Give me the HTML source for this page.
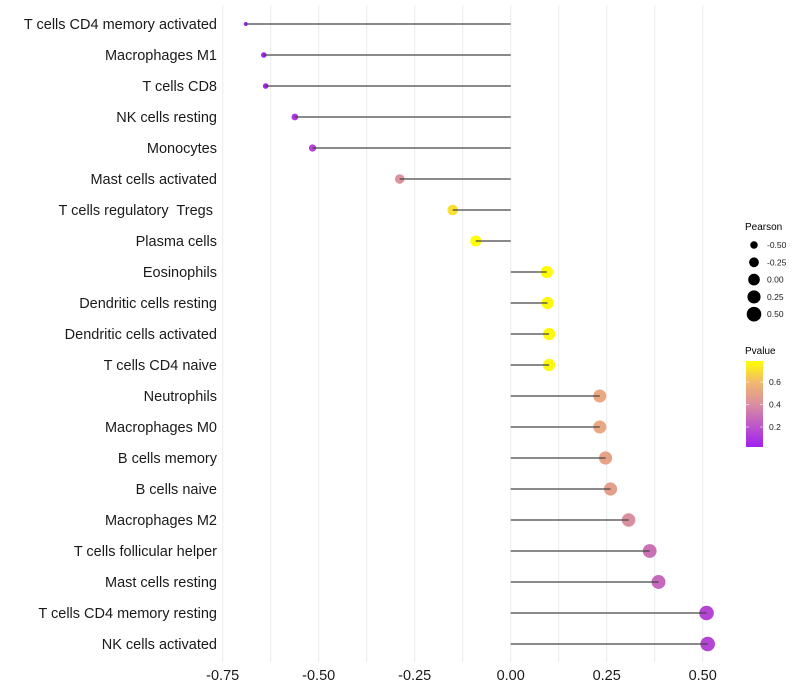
<!DOCTYPE html>
<html><head><meta charset="utf-8"><style>
body{margin:0;background:#fff;}
svg{display:block;font-family:"Liberation Sans",Arial,sans-serif;}
text{white-space:pre;}
</style></head><body>
<svg id="chart" width="800" height="700">
<defs>
<linearGradient id="pg" x1="0" y1="1" x2="0" y2="0">
<stop offset="0" stop-color="#A020F0"/>
<stop offset="0.5" stop-color="#DB8FA0"/>
<stop offset="0.75" stop-color="#F2B86E"/>
<stop offset="1" stop-color="#FFFF00"/>
</linearGradient>
</defs>
<g id="grid"></g>
<g id="marks"></g>
<g id="ylab"></g>
<g id="xlab"></g>
<g id="sleg">
<text x="745" y="230" font-size="10">Pearson</text>
</g>
<g id="cleg">
<text x="745" y="354" font-size="10">Pvalue</text>
<rect x="746" y="361" width="17" height="86" fill="url(#pg)"/>
</g>
</svg>
<script>
const categories=["T cells CD4 memory activated","Macrophages M1","T cells CD8","NK cells resting","Monocytes","Mast cells activated","T cells regulatory  Tregs ","Plasma cells","Eosinophils","Dendritic cells resting","Dendritic cells activated","T cells CD4 naive","Neutrophils","Macrophages M0","B cells memory","B cells naive","Macrophages M2","T cells follicular helper","Mast cells resting","T cells CD4 memory resting","NK cells activated"];
const pearson=[-0.69,-0.643,-0.638,-0.562,-0.516,-0.289,-0.151,-0.091,0.094,0.096,0.10,0.10,0.232,0.232,0.247,0.26,0.307,0.362,0.385,0.51,0.513];
const pvalues=[0.02,0.03,0.03,0.10,0.15,0.42,0.70,0.79,0.78,0.77,0.77,0.77,0.52,0.52,0.50,0.48,0.40,0.30,0.27,0.15,0.15];
const xTicks=[-0.75,-0.5,-0.25,0,0.25,0.5];
const xTickLabels=["-0.75","-0.50","-0.25","0.00","0.25","0.50"];
const sizeBreaks=[-0.5,-0.25,0,0.25,0.5];
const sizeLabels=["-0.50","-0.25","0.00","0.25","0.50"];
const colorBreaks=[0.2,0.4,0.6];
const colorLabels=["0.2","0.4","0.6"];

const NS="http://www.w3.org/2000/svg";
const X=v=>510.7+v*384;
const Y=i=>24+i*31;
const pMin=0.022,pMax=0.787;
const CY=p=>447-(p-pMin)/(pMax-pMin)*86;
const R=v=>2+5.3*Math.pow(Math.max(0,(v+0.69)/1.2),0.6);
const stops=[[0,[160,32,240]],[0.5,[219,143,160]],[0.75,[242,184,110]],[1,[255,255,0]]];
function col(p){let t=Math.min(1,Math.max(0,(p-pMin)/(pMax-pMin)));for(let k=1;k<stops.length;k++){if(t<=stops[k][0]){const a=stops[k-1],b=stops[k];const f=(t-a[0])/(b[0]-a[0]);const c=a[1].map((x,j)=>Math.round(x+(b[1][j]-x)*f));return `rgb(${c})`;}}return "rgb(255,255,0)";}
function mk(tag,attrs,parent){const e=document.createElementNS(NS,tag);for(const k in attrs)e.setAttribute(k,attrs[k]);parent.appendChild(e);return e;}

const grid=document.getElementById('grid');
for(let v=-0.75;v<=0.5001;v+=0.125){
 const g=mk('line',{x1:X(v),x2:X(v),y1:5,y2:662,stroke:'#ebebeb','stroke-width':1},grid);
 
 
}
const marks=document.getElementById('marks');
const ylab=document.getElementById('ylab');
categories.forEach((c,i)=>{
 const v=pearson[i];
 const pt=mk('circle',{cx:X(v),cy:Y(i),r:R(v),fill:col(pvalues[i])},marks);
 
 
 const ln=mk('line',{x1:X(0),x2:X(v),y1:Y(i),y2:Y(i),stroke:'#444','stroke-width':1.3},marks);
 
 
 const t=mk('text',{x:217,y:Y(i)+5,'text-anchor':'end','font-size':14.5,fill:'#1a1a1a'},ylab);
 t.textContent=c;
 
 
});
const xlab=document.getElementById('xlab');
xTicks.forEach((v,i)=>{
 const t=mk('text',{x:X(v),y:680,'text-anchor':'middle','font-size':14.5,fill:'#1a1a1a'},xlab);
 t.textContent=xTickLabels[i];
 
 
});
const sleg=document.getElementById('sleg');
sizeBreaks.forEach((v,i)=>{
 const y=245+i*17.3;
 const c=mk('circle',{cx:754,cy:y,r:R(v),fill:'#000'},sleg);
 
 
 const t=mk('text',{x:767,y:y+3,'font-size':8.5,fill:'#1a1a1a'},sleg);
 t.textContent=sizeLabels[i];
 
 
});
const cleg=document.getElementById('cleg');
colorBreaks.forEach((p,i)=>{
 const y=CY(p);
 mk('line',{x1:746,x2:749,y1:y,y2:y,stroke:'#fff','stroke-width':0.6},cleg);
 mk('line',{x1:760,x2:763,y1:y,y2:y,stroke:'#fff','stroke-width':0.6},cleg);
 const t=mk('text',{x:769,y:y+3,'font-size':8.5,fill:'#1a1a1a'},cleg);
 t.textContent=colorLabels[i];
 
 
});
</script>
</body></html>
